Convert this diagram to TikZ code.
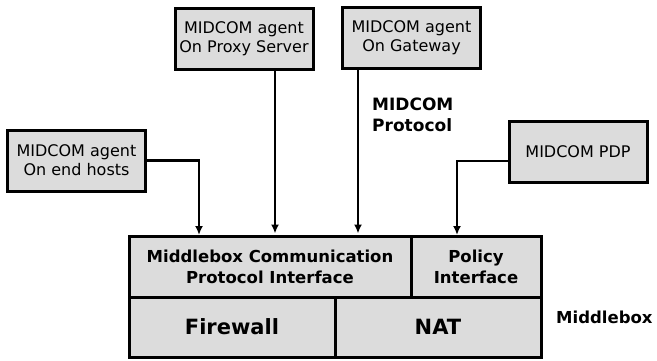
\documentclass[tikz,border=0pt]{standalone}
\usepackage{fontspec}
\setmainfont{DejaVu Sans}
\usetikzlibrary{arrows.meta}
\definecolor{boxgray}{RGB}{220,220,220}
\tikzset{
  agent/.style={draw, line width=3pt, fill=boxgray, inner sep=0pt,
    minimum width=138pt, minimum height=61pt, align=center,
    font=\fontsize{16}{19}\selectfont},
  cell/.style={draw, line width=3pt, fill=boxgray, inner sep=0pt,
    align=center, minimum height=61pt},
  midtext/.style={font=\bfseries\fontsize{16.5}{21}\selectfont},
  bigtext/.style={font=\bfseries\fontsize{21}{25}\selectfont},
  arr/.style={line width=2.3pt, -{Latex[length=9pt,width=8pt]}, shorten >=1pt},
  wire/.style={line width=2.3pt}
}
\begin{document}
\begin{tikzpicture}[x=1pt,y=-1pt]
  \useasboundingbox (0,0) rectangle (657,360);

  % MIDCOM agents and policy decision point
  \node[agent] (proxy) at (244,38.5) {MIDCOM agent\\On Proxy Server};
  \node[agent] (gw)    at (411.5,38) {MIDCOM agent\\On Gateway};
  \node[agent] (hosts) at (76.5,160.5) {MIDCOM agent\\On end hosts};
  \node[agent] (pdp)   at (578,152) {MIDCOM PDP};

  % Middlebox: interfaces on top, functions below
  \node[cell, midtext, minimum width=282pt] (comm) at (270,266.5)
    {Middlebox Communication\\Protocol Interface};
  \node[cell, midtext, minimum width=130pt] (policy) at (476,266.5)
    {Policy\\Interface};
  \node[cell, bigtext, minimum width=206pt, minimum height=60pt] (fw) at (232,327) {Firewall};
  \node[cell, bigtext, minimum width=206pt, minimum height=60pt] (nat) at (438,327) {NAT};

  % labels
  \node[font=\bfseries\fontsize{17}{21}\selectfont, align=left, anchor=west, inner sep=0pt]
    (proto) at (372,114.5) {MIDCOM\\Protocol};
  \node[font=\bfseries\fontsize{16.5}{20}\selectfont, anchor=west, inner sep=0pt]
    (mbox) at (556,317) {Middlebox};

  % connectors into the interfaces
  \coordinate (hostsout) at (hosts.east);
  \coordinate (hostsin)  at (199,236);
  \draw[arr] (hostsout) -| (hostsin);

  \coordinate (proxyout) at ([xshift=31pt]proxy.south);
  \draw[arr] (proxyout) -- (proxyout |- comm.north);

  \coordinate (gwout) at ([xshift=-53.5pt]gw.south);
  \draw[arr] (gwout) -- (gwout |- comm.north);

  \coordinate (pdpout) at ([yshift=-9pt]pdp.west);
  \coordinate (pdpin)  at (457,236);
  \draw[arr] (pdpout) -| (pdpin);
\end{tikzpicture}
\end{document}
